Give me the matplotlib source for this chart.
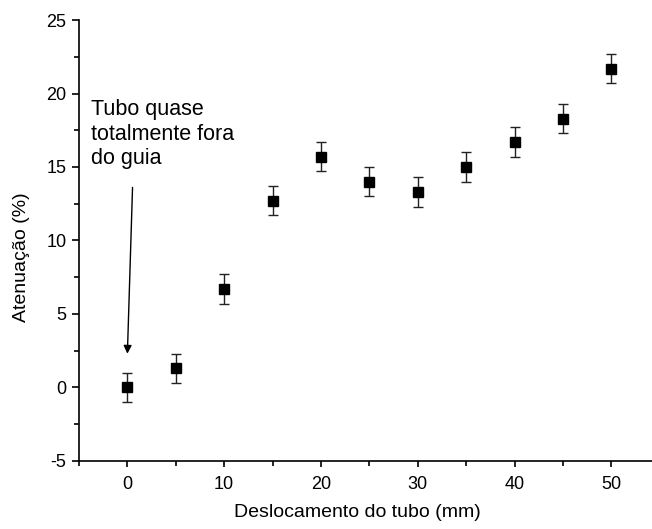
import numpy as np
import matplotlib.pyplot as plt
from matplotlib.ticker import MultipleLocator

plt.rcParams['font.family'] = ['Liberation Sans', 'DejaVu Sans']
plt.rcParams['axes.unicode_minus'] = False

# data
deslocamento = [0, 5, 10, 15, 20, 25, 30, 35, 40, 45, 50]
atenuacao = [0.0, 1.3, 6.7, 12.7, 15.7, 14.0, 13.3, 15.0, 16.7, 18.3, 21.7]
erro = [1.0, 1.0, 1.0, 1.0, 1.0, 1.0, 1.0, 1.0, 1.0, 1.0, 1.0]

fig = plt.figure(figsize=(6.52, 5.29), dpi=100)
ax = fig.add_axes([0.121, 0.129, 0.891, 0.833])
ax.errorbar(deslocamento, atenuacao, yerr=erro, fmt='s', color='black',
            ecolor='#222222', elinewidth=1.0, capsize=3.3, capthick=1.0,
            markersize=7.5, clip_on=False)

ax.set_xlim(-5, 55)
ax.set_ylim(-5, 25)
ax.spines['top'].set_visible(False)
ax.spines['right'].set_visible(False)
ax.spines['left'].set_linewidth(1.2)
ax.spines['bottom'].set_linewidth(1.2)
ax.xaxis.set_major_locator(MultipleLocator(10))
ax.xaxis.set_minor_locator(MultipleLocator(5))
ax.yaxis.set_major_locator(MultipleLocator(5))
ax.yaxis.set_minor_locator(MultipleLocator(2.5))
ax.tick_params(which='major', direction='out', width=1.2, labelsize=13)
ax.tick_params(axis='x', which='major', length=4, pad=7)
ax.tick_params(axis='y', which='major', length=5, pad=4)
ax.tick_params(which='minor', direction='out', length=3.5, width=1.2)
ax.set_xticks([0, 10, 20, 30, 40, 50])

xl = ax.set_xlabel('Deslocamento do tubo (mm)', fontsize=14)
xl.set_va('center')
ax.xaxis.set_label_coords(0.48, -0.118)
yl = ax.set_ylabel('Atenuação (%)', fontsize=14)
yl.set_va('center')
ax.yaxis.set_label_coords(-0.098, 0.463)

ax.annotate('', xy=(0, 2.1), xytext=(0.55, 13.8),
            arrowprops=dict(arrowstyle='-|>', color='black', lw=1.0,
                            mutation_scale=12))
ax.text(-3.7, 19.6, 'Tubo quase\ntotalmente fora\ndo guia', fontsize=15.5,
        va='top', ha='left', linespacing=1.2)

fig.savefig('out.png', dpi=100)
